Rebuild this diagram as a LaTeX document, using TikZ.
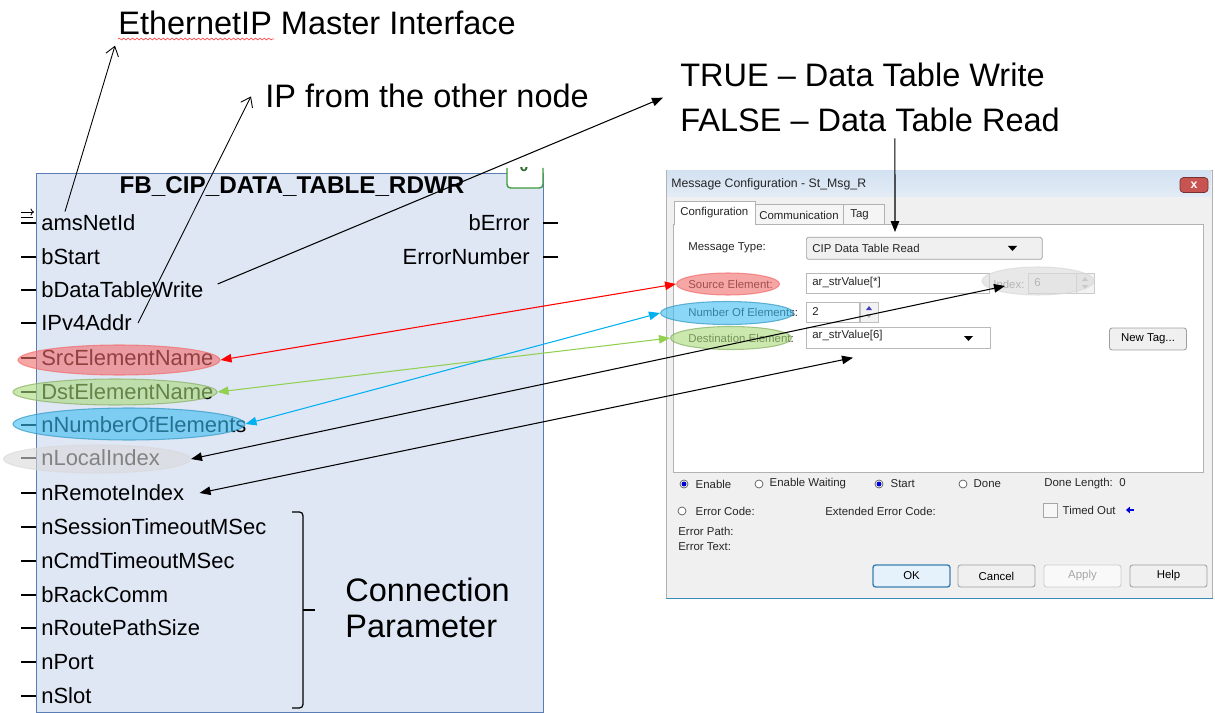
\documentclass[tikz,border=0pt]{standalone}
\usepackage{fontspec}
\setmainfont{Liberation Sans}
\usepackage{xcolor}
\usepackage{tikz}
\usetikzlibrary{shapes.geometric, arrows.meta, positioning, decorations.pathmorphing}

\definecolor{fbfill}{HTML}{DFE7F5}
\definecolor{fbline}{HTML}{5B7DB5}
\definecolor{tabgreen}{HTML}{3E9A3E}
\definecolor{dlgbg}{HTML}{F0F0F0}
\definecolor{titletop}{HTML}{D3E1F1}
\definecolor{titlebot}{HTML}{E3ECF6}
\definecolor{closered}{HTML}{C75450}
\definecolor{ovalred}{HTML}{F26B6B}
\definecolor{ovalgreen}{HTML}{A9DB7A}
\definecolor{ovalblue}{HTML}{3DBDF2}
\definecolor{ovalgrey}{HTML}{D9D9D9}
\definecolor{arrred}{HTML}{FF0000}
\definecolor{arrgreen}{HTML}{92D050}
\definecolor{arrblue}{HTML}{00B0F0}
\definecolor{okfill}{HTML}{E5F1FB}
\definecolor{okline}{HTML}{3C7FB1}
\definecolor{dlgedge}{HTML}{3C8DB8}

\begin{document}
\begin{tikzpicture}[
    x=0.02cm, y=-0.02cm,
    note/.style={inner sep=0, align=left, font=\fontsize{18.5}{22}\selectfont},
    pin_label/.style={inner sep=0, anchor=west, font=\fontsize{12.5}{14}\selectfont},
    pin_line/.style={line width=0.7pt},
    oval/.style={ellipse, inner sep=0, line width=0.6pt, fill opacity=0.6, draw opacity=0.7},
    dlg_text/.style={inner sep=0, anchor=west, text=black!85, font=\fontsize{6.5}{7.5}\selectfont},
    field/.style={draw=gray!55, fill=white, line width=0.4pt, inner sep=0, anchor=north west},
    button/.style={draw=gray!75, fill=gray!12, rounded corners=1.5pt, line width=0.5pt, inner sep=0, minimum width=1.54cm, minimum height=0.44cm, font=\fontsize{6.5}{7.5}\selectfont},
    radio/.style={circle, draw=gray!70!black, fill=white, inner sep=0, minimum size=0.16cm, line width=0.4pt},
    radio_on/.style={radio, path picture={\fill[blue!85!black] (path picture bounding box.center) circle (0.05cm);}},
    open_arrow/.style={-{Straight Barb[length=1.8mm, width=2.6mm]}, line width=0.5pt},
    note_arrow/.style={-{Triangle[length=2.2mm, width=1.7mm]}, line width=0.6pt},
    link/.style={<->, >={Triangle[length=2.2mm, width=1.7mm]}, line width=0.6pt}
]
\useasboundingbox (0,0) rectangle (1215,713);

% Function block
\node[draw=fbline, fill=fbfill, line width=0.8pt, inner sep=0, anchor=north west,
      minimum width=10.14cm, minimum height=10.78cm] (fb) at (36,173) {};
\draw[draw=tabgreen, fill=white, line width=0.8pt, rounded corners=2pt] (507,168) -- (507,188) -- (543,188) -- (543,168);
\begin{scope}
  \clip (507,168) rectangle (543,188);
  \node[font=\bfseries\fontsize{9}{10}\selectfont, text=tabgreen!70!black] (fb_tag) at (524,166) {0};
\end{scope}
\node[font=\bfseries\fontsize{13.8}{15}\selectfont, inner sep=0] (fb_title) at (292,187) {FB\_CIP\_DATA\_TABLE\_RDWR};

% Pins
\node[pin_label] (ams) at (41,223) {amsNetId};
\node[pin_label] (start) at (41,257) {bStart};
\node[pin_label] (dtw) at (41,290) {bDataTableWrite};
\node[pin_label] (ipv4) at (41,323) {IPv4Addr};
\node[pin_label] (src) at (41,358) {SrcElementName};
\node[pin_label] (dst) at (41,392) {DstElementName};
\node[pin_label] (num) at (41,425) {nNumberOfElements};
\node[pin_label] (loc) at (41,458) {nLocalIndex};
\node[pin_label] (rem) at (41,493) {nRemoteIndex};
\node[pin_label] (sess) at (41,527) {nSessionTimeoutMSec};
\node[pin_label] (cmd) at (41,561) {nCmdTimeoutMSec};
\node[pin_label] (rack) at (41,595) {bRackComm};
\node[pin_label] (route) at (41,628) {nRoutePathSize};
\node[pin_label] (port) at (41,662) {nPort};
\node[pin_label] (slot) at (41,696) {nSlot};
\node[pin_label, anchor=east] (err) at (530,223) {bError};
\node[pin_label, anchor=east] (errnum) at (530,257) {ErrorNumber};

\foreach \p in {ams, start, dtw, ipv4, src, dst, num, loc, rem, sess, cmd, rack, route, port, slot}
  \draw[pin_line] ([xshift=-0.1cm]\p.west) -- ++(-15,0);
\draw[pin_line] ([xshift=0.26cm]err.east) -- ++(15,0);
\draw[pin_line] ([xshift=0.26cm]errnum.east) -- ++(15,0);
\draw[line width=0.5pt, -{To[length=0.7mm, width=1.4mm]}] (21,212) -- (34,212);
\draw[line width=0.5pt] (21,217) -- (33,217);

% Highlights on the block
\node[oval, fill=ovalred, draw=ovalred, minimum width=4.04cm, minimum height=0.6cm] (src_oval) at (119,360) {};
\node[oval, fill=ovalgreen, draw=ovalgreen!80!black, minimum width=4.08cm, minimum height=0.52cm] (dst_oval) at (115,392) {};
\node[oval, fill=ovalblue, draw=ovalblue!80!black, minimum width=4.64cm, minimum height=0.64cm] (num_oval) at (129,424) {};
\node[oval, fill=ovalgrey, draw=ovalgrey, minimum width=3.74cm, minimum height=0.56cm] (loc_oval) at (97,459) {};

% Connection parameter
\draw[line width=0.7pt, rounded corners=2pt] (292,512) -- (303,512) -- (303,708) -- (292,708);
\draw[line width=0.7pt] (303,610) -- (315,610);
\node[note, anchor=north west, font=\fontsize{18.5}{20.4}\selectfont] (conn) at (345,578) {Connection\\Parameter};

% Notes
\node[note, anchor=base west] (eth_label) at (118,35) {EthernetIP Master Interface};
\draw[red!70, line width=0.4pt, decorate, decoration={snake, amplitude=0.5pt, segment length=2.5pt}] ([yshift=-0.08cm]eth_label.base west) -- ++(156,0);
\node[note, anchor=base west] (ip_label) at (265,108) {IP from the other node};
\node[note, anchor=north west, font=\fontsize{18.5}{25.5}\selectfont] (mode_label) at (680,63) {TRUE -- Data Table Write\\FALSE -- Data Table Read};

% Dialog window
\node[draw=gray!60, fill=dlgbg, inner sep=0, anchor=north west, minimum width=10.92cm, minimum height=8.56cm] (dlg) at (666,170) {};
\shade[top color=titletop, bottom color=titlebot] (667,171) rectangle (1211,197);
\node[dlg_text, font=\fontsize{7}{8}\selectfont] (dlg_title) at (671,184) {Message Configuration - St\_Msg\_R};
\node[draw=closered!60!black, fill=closered, rounded corners=2pt, inner sep=0, minimum width=0.56cm, minimum height=0.3cm,
      text=white, font=\bfseries\fontsize{7}{8}\selectfont] (close_btn) at (1194,185) {x};
\draw[dlgedge, line width=1pt] (dlg.south west) -- (dlg.south east);

% Tabs and panel
\draw[draw=gray!60, fill=gray!8] (755,224) -- (755,204) -- (843,204) -- (843,224);
\draw[draw=gray!60, fill=gray!8] (843,224) -- (843,204) -- (884,204) -- (884,224);
\draw[draw=gray!60, fill=white] (673,224) rectangle (1203,472);
\draw[draw=gray!60, fill=white] (674,225) -- (674,201) -- (755,201) -- (755,225);
\node[dlg_text] (tab_conf) at (680,213) {Configuration};
\node[dlg_text] (tab_comm) at (759,215) {Communication};
\node[dlg_text] (tab_tag) at (850,215) {Tag};

% Fields
\node[dlg_text] (type_lbl) at (688,248) {Message Type:};
\node[field, fill=gray!12, draw=gray!75, rounded corners=1pt, minimum width=4.72cm, minimum height=0.44cm] (type_box) at (806,237) {};
\node[dlg_text] (type_val) at (812,248) {CIP Data Table Read};
\fill (1008,246) -- (1017,246) -- (1012.5,251) -- cycle;

\node[dlg_text] (src_lbl) at (688,284) {Source Element:};
\node[field, minimum width=3.66cm, minimum height=0.4cm] (src_box) at (806,273) {};
\node[dlg_text] (src_val) at (812,283) {ar\_strValue[*]};
\node[dlg_text, text=gray] (idx_lbl) at (993,284) {Index:};
\node[field, fill=gray!6, draw=gray!40, minimum width=0.96cm, minimum height=0.4cm] (idx_box) at (1028,273) {};
\node[dlg_text, text=gray] (idx_val) at (1034,283) {6};
\node[field, fill=gray!10, draw=gray!40, minimum width=0.36cm, minimum height=0.4cm] (idx_spin) at (1076,273) {};
\fill[gray!60] (1082,281) -- (1088,281) -- (1085,277) -- cycle;
\fill[gray!60] (1082,285) -- (1088,285) -- (1085,289) -- cycle;

\node[dlg_text] (num_lbl) at (688,312) {Number Of Elements:};
\node[field, minimum width=1.06cm, minimum height=0.4cm] (num_box) at (806,302) {};
\node[dlg_text] (num_val) at (812,312) {2};
\node[field, fill=gray!10, draw=gray!50, minimum width=0.36cm, minimum height=0.4cm] (num_spin) at (860,302) {};
\fill[blue!50!gray] (866,310) -- (872,310) -- (869,306) -- cycle;
\fill[gray!60] (866,314) -- (872,314) -- (869,318) -- cycle;

\node[dlg_text] (dst_lbl) at (688,338) {Destination Element:};
\node[field, minimum width=3.68cm, minimum height=0.42cm] (dst_box) at (806,327) {};
\node[dlg_text] (dst_val) at (812,336) {ar\_strValue[6]};
\fill (964,336) -- (973,336) -- (968.5,341) -- cycle;
\node[button] (newtag_btn) at (1148,339) {New Tag...};

% Highlights on the dialog
\node[oval, fill=ovalred, draw=ovalred, minimum width=2.06cm, minimum height=0.44cm] (src_msg) at (728,284) {};
\node[oval, fill=ovalblue, draw=ovalblue!80!black, minimum width=2.66cm, minimum height=0.46cm] (num_msg) at (727,313) {};
\node[oval, fill=ovalgreen, draw=ovalgreen!80!black, minimum width=2.42cm, minimum height=0.46cm] (dst_msg) at (731,338) {};
\node[oval, fill=ovalgrey, draw=ovalgrey, minimum width=2.24cm, minimum height=0.56cm] (idx_msg) at (1038,281) {};

% Status area
\node[radio_on] (en_radio) at (684,484) {};
\node[dlg_text, right=0.14cm of en_radio] (en_lbl) {Enable};
\node[radio] (wait_radio) at (759,484) {};
\node[dlg_text, right=0.12cm of wait_radio] (wait_lbl) {Enable Waiting};
\node[radio_on] (st_radio) at (879,484) {};
\node[dlg_text, right=0.14cm of st_radio] (st_lbl) {Start};
\node[radio] (done_radio) at (963,484) {};
\node[dlg_text, right=0.12cm of done_radio] (done_lbl) {Done};
\node[dlg_text] (dlen_lbl) at (1044,484) {Done Length:\ \ 0};
\node[radio] (ec_radio) at (682,511) {};
\node[dlg_text, right=0.18cm of ec_radio] (ec_lbl) {Error Code:};
\node[dlg_text] (xec_lbl) at (825,511) {Extended Error Code:};
\node[draw=gray!70, fill=gray!6, inner sep=0, minimum size=0.28cm, line width=0.4pt] (to_box) at (1050,510) {};
\node[dlg_text, right=0.1cm of to_box] (to_lbl) {Timed Out};
\draw[blue!85!black, line width=0.6pt, -{Triangle[length=0.8mm, width=1.3mm]}] ([xshift=0.36cm]to_lbl.east) -- ++(-8,0);
\node[dlg_text] (epath_lbl) at (678,531) {Error Path:};
\node[dlg_text] (etext_lbl) at (678,547) {Error Text:};

% Buttons
\node[button, fill=okfill, draw=okline, line width=0.8pt] (ok_btn) at (911.5,576) {OK};
\node[button] (cancel_btn) at (996.5,576) {Cancel};
\node[button, fill=gray!5, draw=gray!40, text=gray!70] (apply_btn) at (1082.5,576) {Apply};
\node[button] (help_btn) at (1168.5,576) {Help};

% Arrows
\draw[open_arrow] ([xshift=0.48cm, yshift=0.06cm]ams.north west) -- ([xshift=-0.06cm, yshift=-0.2cm]eth_label.south west);
\draw[open_arrow] ([xshift=0.12cm]ipv4.east) -- ([xshift=-0.28cm]ip_label.west);
\draw[note_arrow] ([xshift=0.28cm, yshift=0.12cm]dtw.east) -- ([xshift=-0.34cm]mode_label.west);
\draw[note_arrow] ([xshift=4.3cm, yshift=-0.12cm]mode_label.south west) -- ([xshift=1.78cm, yshift=0.1cm]type_box.north west);
\draw[link, arrred] (src_oval.east) -- (src_msg.west);
\draw[link, arrgreen] (dst_oval.east) -- (dst_msg.west);
\draw[link, arrblue] (num_oval.east) -- (num_msg.west);
\draw[link] (loc_oval.east) -- ([xshift=-0.66cm, yshift=-0.1cm]idx_msg.center);
\draw[link] ([xshift=0.3cm]rem.east) -- ([xshift=0.94cm, yshift=-0.18cm]dst_box.south west);

\end{tikzpicture}
\end{document}
